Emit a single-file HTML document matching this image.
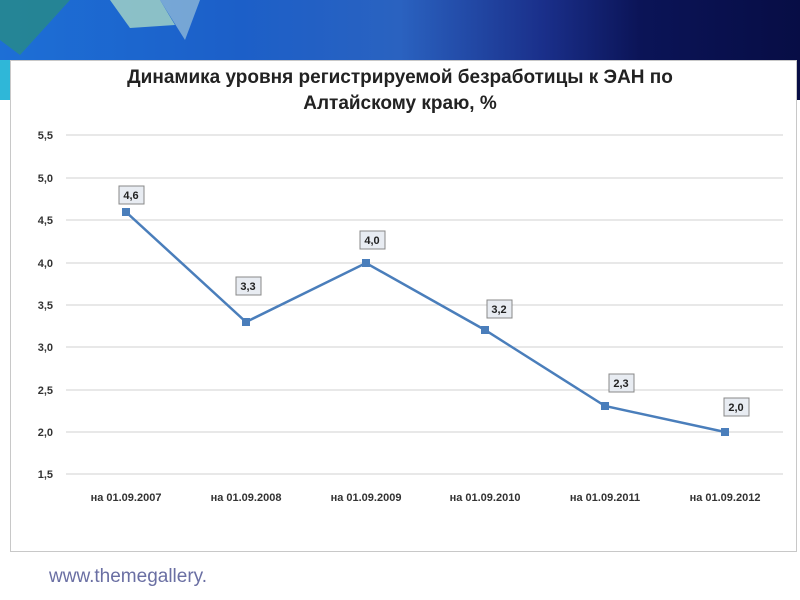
<!DOCTYPE html>
<html><head><meta charset="utf-8"><style>
body{margin:0;width:800px;height:600px;overflow:hidden;background:#fff;position:relative;font-family:"Liberation Sans","DejaVu Sans",sans-serif}
.banner{position:absolute;left:0;top:0;width:800px;height:100px;background:linear-gradient(90deg,#1d6fd6 0%,#1c5fc8 30%,#2a62c0 50%,#1a2f8a 68%,#0b1457 80%,#070d45 100%)}
.lb{position:absolute;left:0;top:60px;width:12px;height:40px;background:#2fb7d8}
.box{position:absolute;left:10px;top:60px;width:785px;height:490px;background:#fff;border:1px solid #c8c8c8}
.url{position:absolute;left:49px;top:566px;font-size:19px;color:#6a6fa3}
</style></head><body>
<div class="banner"></div>
<div class="lb"></div>
<div class="box"></div>
<svg style="position:absolute;left:0;top:0" width="800" height="600">
<polygon points="0,0 70,0 20,55 0,40" fill="#2a8e7a" opacity=".7"/>
<polygon points="110,0 160,0 175,25 130,28" fill="#a7d7c5" opacity=".8"/>
<polygon points="160,0 200,0 185,40" fill="#cfe9df" opacity=".5"/>
<text x="400" y="83" text-anchor="middle" font-size="19" font-weight="bold" fill="#222" font-family="Liberation Sans, DejaVu Sans, sans-serif">Динамика уровня регистрируемой безработицы к ЭАН по</text>
<text x="400" y="109" text-anchor="middle" font-size="19" font-weight="bold" fill="#222" font-family="Liberation Sans, DejaVu Sans, sans-serif">Алтайскому краю, %</text>
<g stroke="#d9d9d9" stroke-width="1.3">
<line x1="66" x2="783" y1="135" y2="135"/><line x1="66" x2="783" y1="178" y2="178"/><line x1="66" x2="783" y1="220" y2="220"/><line x1="66" x2="783" y1="263" y2="263"/><line x1="66" x2="783" y1="305" y2="305"/><line x1="66" x2="783" y1="347" y2="347"/><line x1="66" x2="783" y1="390" y2="390"/><line x1="66" x2="783" y1="432" y2="432"/><line x1="66" x2="783" y1="474" y2="474"/>
</g>
<g font-size="11" font-weight="bold" fill="#333" text-anchor="end" font-family="Liberation Sans, DejaVu Sans, sans-serif">
<text x="53" y="139">5,5</text><text x="53" y="182">5,0</text><text x="53" y="224">4,5</text><text x="53" y="267">4,0</text><text x="53" y="309">3,5</text><text x="53" y="351">3,0</text><text x="53" y="394">2,5</text><text x="53" y="436">2,0</text><text x="53" y="478">1,5</text>
</g>
<g font-size="11" font-weight="bold" fill="#333" text-anchor="middle" font-family="Liberation Sans, DejaVu Sans, sans-serif">
<text x="126" y="501">на 01.09.2007</text><text x="246" y="501">на 01.09.2008</text><text x="366" y="501">на 01.09.2009</text><text x="485" y="501">на 01.09.2010</text><text x="605" y="501">на 01.09.2011</text><text x="725" y="501">на 01.09.2012</text>
</g>
<polyline points="126,212 246,322 366,263 485,330 605,406 725,432" fill="none" stroke="#4a7ebb" stroke-width="2.5"/>
<g fill="#4a7ebb">
<rect x="122" y="208" width="8" height="8"/><rect x="242" y="318" width="8" height="8"/><rect x="362" y="259" width="8" height="8"/><rect x="481" y="326" width="8" height="8"/><rect x="601" y="402" width="8" height="8"/><rect x="721" y="428" width="8" height="8"/>
</g>
<g font-size="11" font-weight="bold" fill="#222" text-anchor="middle" font-family="Liberation Sans, DejaVu Sans, sans-serif">
<g stroke="#888" fill="#e8ecf2"><rect x="119" y="186" width="25" height="18"/><rect x="236" y="277" width="25" height="18"/><rect x="360" y="231" width="25" height="18"/><rect x="487" y="300" width="25" height="18"/><rect x="609" y="374" width="25" height="18"/><rect x="724" y="398" width="25" height="18"/></g>
<text x="131" y="199">4,6</text><text x="248" y="290">3,3</text><text x="372" y="244">4,0</text><text x="499" y="313">3,2</text><text x="621" y="387">2,3</text><text x="736" y="411">2,0</text>
</g>
</svg>
<div class="url">www.themegallery.</div>
</body></html>
